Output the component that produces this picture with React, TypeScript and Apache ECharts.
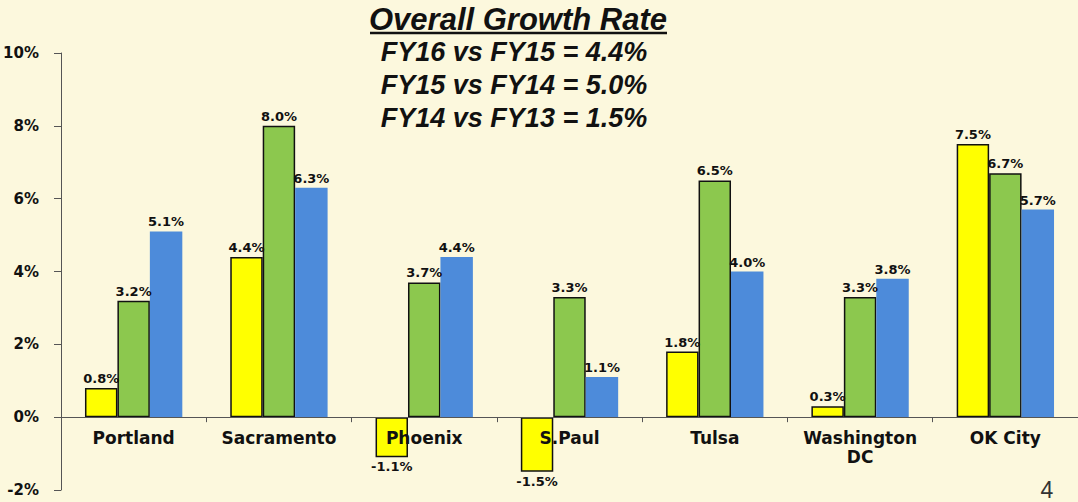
import React, { useEffect, useRef } from "react";
import * as echarts from "echarts";

const categories = ["Portland", "Sacramento", "Phoenix", "S.Paul", "Tulsa", "Washington\nDC", "OK City"];
const fy14vs13 = [0.8, 4.4, -1.1, -1.5, 1.8, 0.3, 7.5];
const fy15vs14 = [3.2, 8.0, 3.7, 3.3, 6.5, 3.3, 6.7];
const fy16vs15 = [5.1, 6.3, 4.4, 1.1, 4.0, 3.8, 5.7];
const titleLines = ["FY16 vs FY15 = 4.4%", "FY15 vs FY14 = 5.0%", "FY14 vs FY13 = 1.5%"];
const yTicks = { min: -2, max: 10, interval: 2 };

const FONT = "Liberation Sans, Arial, sans-serif";
const WIDE = "DejaVu Sans, Verdana, sans-serif";

export default function App() {
  const ref = useRef<HTMLDivElement>(null);
  useEffect(() => {
    document.body.style.margin = "0";
    const chart = echarts.init(ref.current!, null, { renderer: "svg" });
    const gridTop = 53;
    const gridBottom = 12;
    const plotH = 502 - gridTop - gridBottom;
    const zeroOffset = -(plotH * (0 - yTicks.min)) / (yTicks.max - yTicks.min);
    const mk = (vals: number[], color: string, border: boolean) => ({
      type: "bar",
      barGap: "0%",
      barCategoryGap: "33%",
      data: vals.map((v) => ({
        value: v,
        label: { position: v < 0 ? "bottom" : "top" },
      })),
      itemStyle: {
        color,
        borderColor: border ? "#111" : color,
        borderWidth: border ? 1.5 : 0,
      },
      label: {
        show: true,
        formatter: (p: any) => p.value.toFixed(1) + "%",
        fontFamily: WIDE,
        fontWeight: "bold",
        fontSize: 13,
        color: "#111",
        distance: 3,
      },
    });
    chart.setOption({
      animation: false,
      backgroundColor: "#FCF8DD",
      grid: {
        left: 61,
        right: 0,
        top: gridTop,
        bottom: gridBottom,
        containLabel: false,
        outerBoundsMode: "none",
      },
      xAxis: {
        type: "category",
        data: categories,
        z: 5,
        position: "bottom",
        offset: zeroOffset,
        axisLine: { onZero: false, lineStyle: { color: "#555", width: 1 } },
        axisTick: { show: true, length: 5, lineStyle: { color: "#555" } },
        axisLabel: {
          fontFamily: WIDE,
          fontWeight: "bold",
          fontSize: 17,
          color: "#111",
          margin: 11,
          lineHeight: 19,
          interval: 0,
        },
      },
      yAxis: {
        type: "value",
        min: yTicks.min,
        max: yTicks.max,
        interval: yTicks.interval,
        splitLine: { show: false },
        axisLine: { show: true, lineStyle: { color: "#555", width: 1 } },
        axisTick: { show: true, length: 7, lineStyle: { color: "#555" } },
        axisLabel: {
          formatter: (v: number) => v + "%",
          fontFamily: WIDE,
          fontWeight: "bold",
          fontSize: 15,
          color: "#111",
          margin: 22,
        },
      },
      series: [
        mk(fy14vs13, "#FFFF00", true),
        mk(fy15vs14, "#8CC84E", true),
        mk(fy16vs15, "#4D8BDA", false),
      ],
      graphic: [
        {
          type: "text",
          x: 518,
          y: 19,
          style: {
            text: "Overall Growth Rate",
            font: "italic bold 31px " + FONT,
            fill: "#111",
            align: "center",
            verticalAlign: "middle",
          },
        },
        {
          type: "line",
          shape: { x1: 370, y1: 33, x2: 667, y2: 33 },
          style: { stroke: "#111", lineWidth: 2.5 },
        },
        ...titleLines.map((t, i) => ({
          type: "text",
          x: 514,
          y: 52 + i * 33,
          style: {
            text: t,
            font: "italic bold 27px " + FONT,
            fill: "#111",
            align: "center",
            verticalAlign: "middle",
          },
        })),
        {
          type: "text",
          x: 1047,
          y: 490,
          style: {
            text: "4",
            font: "23px " + FONT,
            fill: "#333",
            align: "center",
            verticalAlign: "middle",
          },
        },
      ],
    });
    return () => chart.dispose();
  }, []);
  return <div ref={ref} style={{ width: 1078, height: 502 }} />;
}
